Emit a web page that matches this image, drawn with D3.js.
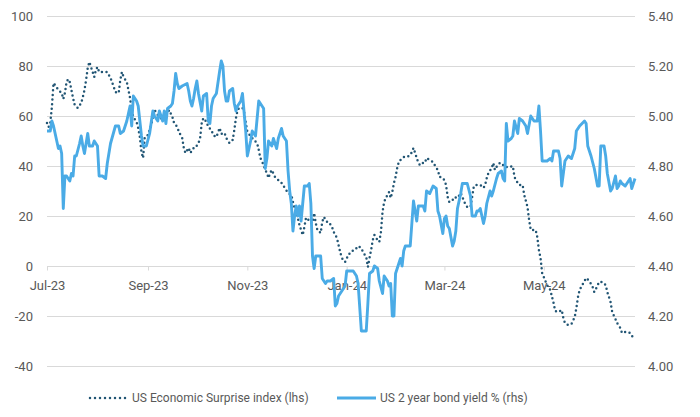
<!DOCTYPE html>
<meta charset="utf-8">
<style>
body { margin: 0; background: #fff; }
text { font-family: Roboto, "Noto Sans", sans-serif; fill: #595959; }
</style>
<body>
<script src="https://cdnjs.cloudflare.com/ajax/libs/d3/7.8.5/d3.min.js"></script>
<script>

// US Economic Surprise index (lhs)
var surprise = [
["2023-07-03",57.2],["2023-07-04",55.6],["2023-07-05",57.2],["2023-07-06",63.6],["2023-07-07",73.2],
["2023-07-08",72.4],["2023-07-10",70.4],["2023-07-12",69.2],["2023-07-13",66.8],["2023-07-14",69.2],
["2023-07-15",73.6],["2023-07-16",74.8],["2023-07-17",73.6],["2023-07-18",70.4],["2023-07-19",67.2],
["2023-07-20",64.4],["2023-07-21",63.6],["2023-07-22",63.2],["2023-07-24",65.2],["2023-07-25",67.6],
["2023-07-26",70.4],["2023-07-27",74.4],["2023-07-28",79.2],["2023-07-29",81.6],["2023-07-30",79.6],
["2023-07-31",77.6],["2023-08-01",75.6],["2023-08-02",78.4],["2023-08-03",79.6],["2023-08-04",77.6],
["2023-08-08",77.6],["2023-08-09",77.6],["2023-08-11",75.2],["2023-08-13",71.6],["2023-08-14",69.6],
["2023-08-16",69.2],["2023-08-17",74.4],["2023-08-18",77.6],["2023-08-19",75.6],["2023-08-21",73.6],
["2023-08-22",70.4],["2023-08-23",67.2],["2023-08-24",62.4],["2023-08-25",59.6],["2023-08-27",57.6],
["2023-08-28",55.2],["2023-08-29",51.6],["2023-08-30",45.6],["2023-08-31",43.2],["2023-09-01",51.6],
["2023-09-03",52.4],["2023-09-05",56.4],["2023-09-07",62.4],["2023-09-09",60.4],["2023-09-12",58.4],
["2023-09-14",59.6],["2023-09-16",62.4],["2023-09-18",59.6],["2023-09-19",57.2],["2023-09-21",55.6],
["2023-09-22",53.6],["2023-09-24",51.2],["2023-09-25",47.2],["2023-09-26",45.2],["2023-09-28",47.2],
["2023-09-29",45.2],["2023-10-01",47.2],["2023-10-02",47.2],["2023-10-04",49.2],["2023-10-05",51.2],
["2023-10-06",57.2],["2023-10-07",59.2],["2023-10-09",57.6],["2023-10-10",55.6],["2023-10-12",54.4],
["2023-10-13",52.4],["2023-10-15",51.6],["2023-10-17",55.2],["2023-10-18",52.8],["2023-10-20",53.2],
["2023-10-21",51.2],["2023-10-23",49.2],["2023-10-25",50.4],["2023-10-26",54.4],["2023-10-27",59.2],
["2023-10-28",62.4],["2023-10-29",63.2],["2023-10-31",63.2],["2023-11-01",61.6],["2023-11-02",57.6],
["2023-11-03",53.6],["2023-11-06",51.2],["2023-11-07",50.4],["2023-11-09",49.2],["2023-11-10",46.4],
["2023-11-11",43.2],["2023-11-13",40.4],["2023-11-14",38.4],["2023-11-15",37.2],["2023-11-16",35.2],
["2023-11-17",37.2],["2023-11-18",38.4],["2023-11-20",35.6],["2023-11-22",34.4],["2023-11-24",33.2],
["2023-11-26",31.2],["2023-11-28",29.2],["2023-11-30",28.4],["2023-12-01",25.6],["2023-12-02",23.2],
["2023-12-03",21.6],["2023-12-04",19.2],["2023-12-05",16.4],["2023-12-06",14.4],["2023-12-07",12.4],
["2023-12-08",15.6],["2023-12-09",19.2],["2023-12-10",19.2],["2023-12-11",17.6],["2023-12-13",17.2],
["2023-12-14",21.2],["2023-12-15",17.2],["2023-12-16",14.4],["2023-12-18",13.2],["2023-12-19",17.6],
["2023-12-20",19.6],["2023-12-22",17.6],["2023-12-23",17.6],["2023-12-25",15.6],["2023-12-26",13.6],
["2023-12-28",11.2],["2023-12-29",8.4],["2023-12-30",5.6],["2023-12-31",3.2],["2024-01-01",2.4],
["2024-01-02",1.6],["2024-01-04",4.4],["2024-01-06",6.0],["2024-01-08",6.4],["2024-01-10",8.0],
["2024-01-12",7.2],["2024-01-13",5.6],["2024-01-15",3.6],["2024-01-16",-0.4],["2024-01-17",3.2],
["2024-01-18",6.4],["2024-01-19",10.4],["2024-01-20",12.4],["2024-01-21",11.2],["2024-01-22",10.4],
["2024-01-23",9.6],["2024-01-24",13.6],["2024-01-25",21.6],["2024-01-26",25.6],["2024-01-27",27.2],
["2024-01-28",28.4],["2024-01-29",29.6],["2024-01-30",27.2],["2024-01-31",29.6],["2024-02-01",33.2],
["2024-02-02",35.6],["2024-02-03",39.2],["2024-02-04",41.6],["2024-02-06",43.2],["2024-02-07",43.6],
["2024-02-09",43.6],["2024-02-11",44.4],["2024-02-12",45.6],["2024-02-13",47.2],["2024-02-14",45.2],
["2024-02-16",41.2],["2024-02-17",40.4],["2024-02-18",41.2],["2024-02-20",41.2],["2024-02-21",43.2],
["2024-02-23",42.4],["2024-02-25",41.6],["2024-02-26",40.4],["2024-02-27",39.2],["2024-02-28",38.4],
["2024-02-29",35.6],["2024-03-01",35.6],["2024-03-03",34.4],["2024-03-04",32.4],["2024-03-05",27.6],
["2024-03-06",25.6],["2024-03-08",26.4],["2024-03-09",27.6],["2024-03-11",27.2],["2024-03-13",29.2],
["2024-03-14",27.6],["2024-03-16",24.4],["2024-03-17",23.6],["2024-03-19",23.6],["2024-03-20",27.6],
["2024-03-21",31.6],["2024-03-22",32.4],["2024-03-25",32.4],["2024-03-27",31.2],["2024-03-28",32.4],
["2024-03-29",35.2],["2024-03-30",37.2],["2024-04-01",39.2],["2024-04-02",41.2],["2024-04-03",38.4],
["2024-04-04",39.6],["2024-04-06",41.2],["2024-04-07",40.4],["2024-04-09",40.4],["2024-04-10",39.6],
["2024-04-12",39.6],["2024-04-14",40.0],["2024-04-15",35.6],["2024-04-17",33.2],["2024-04-18",32.4],
["2024-04-20",32.4],["2024-04-21",28.4],["2024-04-23",23.6],["2024-04-24",18.4],["2024-04-25",14.4],
["2024-04-28",14.4],["2024-04-29",11.6],["2024-04-30",6.4],["2024-05-01",3.2],["2024-05-02",-2.8],
["2024-05-05",-7.6],["2024-05-07",-9.6],["2024-05-09",-14.8],["2024-05-10",-18.0],["2024-05-12",-18.4],
["2024-05-14",-17.6],["2024-05-15",-20.8],["2024-05-16",-22.8],["2024-05-18",-23.6],["2024-05-20",-23.2],
["2024-05-22",-20.4],["2024-05-23",-16.8],["2024-05-24",-12.4],["2024-05-25",-9.6],["2024-05-27",-7.2],
["2024-05-29",-4.8],["2024-05-31",-6.0],["2024-06-02",-8.4],["2024-06-03",-10.4],["2024-06-04",-9.2],
["2024-06-06",-6.4],["2024-06-08",-6.4],["2024-06-10",-7.6],["2024-06-11",-10.4],["2024-06-13",-14.4],
["2024-06-14",-18.4],["2024-06-16",-21.2],["2024-06-17",-22.8],["2024-06-19",-24.8],["2024-06-20",-26.8],
["2024-06-22",-26.4],["2024-06-24",-26.4],["2024-06-25",-26.8],["2024-06-27",-28.8]
];

// US 2 year bond yield % (rhs)
var yields = [
["2023-07-03",4.94],["2023-07-05",4.94],["2023-07-06",4.98],["2023-07-07",4.96],["2023-07-09",4.90],
["2023-07-10",4.87],["2023-07-11",4.88],["2023-07-12",4.85],["2023-07-13",4.63],["2023-07-14",4.76],
["2023-07-15",4.76],["2023-07-17",4.74],["2023-07-18",4.77],["2023-07-19",4.76],["2023-07-20",4.84],
["2023-07-21",4.84],["2023-07-23",4.89],["2023-07-24",4.92],["2023-07-25",4.88],["2023-07-26",4.85],
["2023-07-28",4.93],["2023-07-29",4.88],["2023-07-31",4.88],["2023-08-01",4.90],["2023-08-03",4.88],
["2023-08-04",4.76],["2023-08-06",4.76],["2023-08-08",4.75],["2023-08-09",4.81],["2023-08-11",4.89],
["2023-08-14",4.96],["2023-08-16",4.96],["2023-08-17",4.93],["2023-08-19",4.94],["2023-08-21",4.98],
["2023-08-22",5.01],["2023-08-23",5.04],["2023-08-24",4.96],["2023-08-25",5.08],["2023-08-27",5.06],
["2023-08-28",5.04],["2023-08-30",4.92],["2023-08-31",4.88],["2023-09-02",4.88],["2023-09-04",4.93],
["2023-09-06",5.02],["2023-09-07",5.00],["2023-09-09",4.98],["2023-09-10",5.02],["2023-09-12",4.98],
["2023-09-13",5.02],["2023-09-14",4.97],["2023-09-15",5.03],["2023-09-17",5.04],["2023-09-18",5.05],
["2023-09-19",5.10],["2023-09-20",5.17],["2023-09-21",5.13],["2023-09-22",5.11],["2023-09-24",5.12],
["2023-09-27",5.13],["2023-09-28",5.10],["2023-09-29",5.06],["2023-09-30",5.04],["2023-10-01",5.07],
["2023-10-02",5.11],["2023-10-03",5.14],["2023-10-04",5.09],["2023-10-06",5.02],["2023-10-07",5.08],
["2023-10-09",5.09],["2023-10-10",4.98],["2023-10-11",4.97],["2023-10-12",5.04],["2023-10-13",5.07],
["2023-10-14",5.08],["2023-10-15",5.09],["2023-10-17",5.18],["2023-10-18",5.22],["2023-10-19",5.20],
["2023-10-20",5.10],["2023-10-21",5.06],["2023-10-22",5.06],["2023-10-23",5.10],["2023-10-25",5.11],
["2023-10-26",5.05],["2023-10-27",5.02],["2023-10-28",5.04],["2023-10-30",5.06],["2023-10-31",5.09],
["2023-11-02",4.94],["2023-11-03",4.84],["2023-11-05",4.90],["2023-11-06",4.94],["2023-11-08",4.92],
["2023-11-10",5.06],["2023-11-11",5.05],["2023-11-13",5.03],["2023-11-14",4.79],["2023-11-15",4.83],
["2023-11-16",4.90],["2023-11-18",4.88],["2023-11-19",4.91],["2023-11-21",4.87],["2023-11-22",4.91],
["2023-11-24",4.95],["2023-11-25",4.92],["2023-11-27",4.90],["2023-11-28",4.78],["2023-11-29",4.70],
["2023-11-30",4.65],["2023-12-01",4.54],["2023-12-02",4.60],["2023-12-03",4.64],["2023-12-04",4.60],
["2023-12-05",4.64],["2023-12-06",4.58],["2023-12-08",4.72],["2023-12-10",4.72],["2023-12-11",4.73],
["2023-12-12",4.65],["2023-12-13",4.44],["2023-12-14",4.39],["2023-12-15",4.44],["2023-12-18",4.44],
["2023-12-19",4.35],["2023-12-21",4.33],["2023-12-22",4.34],["2023-12-24",4.34],["2023-12-26",4.35],
["2023-12-27",4.24],["2023-12-28",4.25],["2023-12-29",4.28],["2023-12-31",4.30],["2024-01-02",4.32],
["2024-01-03",4.38],["2024-01-07",4.38],["2024-01-09",4.36],["2024-01-10",4.33],["2024-01-12",4.14],
["2024-01-15",4.14],["2024-01-16",4.25],["2024-01-17",4.37],["2024-01-19",4.38],["2024-01-20",4.40],
["2024-01-22",4.39],["2024-01-23",4.34],["2024-01-25",4.29],["2024-01-26",4.36],["2024-01-28",4.34],
["2024-01-29",4.32],["2024-01-30",4.33],["2024-01-31",4.20],["2024-02-01",4.20],["2024-02-02",4.37],
["2024-02-04",4.41],["2024-02-05",4.43],["2024-02-06",4.40],["2024-02-07",4.46],["2024-02-08",4.48],
["2024-02-10",4.48],["2024-02-11",4.48],["2024-02-13",4.66],["2024-02-14",4.62],["2024-02-15",4.58],
["2024-02-16",4.64],["2024-02-19",4.64],["2024-02-20",4.62],["2024-02-21",4.70],["2024-02-23",4.69],
["2024-02-25",4.72],["2024-02-27",4.71],["2024-02-28",4.62],["2024-02-29",4.60],["2024-03-02",4.53],
["2024-03-03",4.59],["2024-03-04",4.60],["2024-03-05",4.56],["2024-03-06",4.55],["2024-03-08",4.48],
["2024-03-09",4.50],["2024-03-10",4.54],["2024-03-11",4.63],["2024-03-13",4.69],["2024-03-14",4.73],
["2024-03-17",4.73],["2024-03-19",4.68],["2024-03-20",4.60],["2024-03-22",4.60],["2024-03-23",4.62],
["2024-03-24",4.62],["2024-03-25",4.63],["2024-03-27",4.57],["2024-03-28",4.60],["2024-03-29",4.65],
["2024-03-31",4.70],["2024-04-01",4.68],["2024-04-02",4.70],["2024-04-04",4.75],["2024-04-05",4.77],
["2024-04-07",4.78],["2024-04-08",4.75],["2024-04-09",4.74],["2024-04-10",4.97],["2024-04-11",4.90],
["2024-04-13",4.91],["2024-04-14",4.92],["2024-04-15",4.98],["2024-04-17",4.93],["2024-04-18",4.99],
["2024-04-20",4.98],["2024-04-22",4.96],["2024-04-23",4.93],["2024-04-25",5.00],["2024-04-27",4.98],
["2024-04-29",4.98],["2024-04-30",5.04],["2024-05-01",4.94],["2024-05-02",4.82],["2024-05-05",4.82],
["2024-05-07",4.83],["2024-05-08",4.82],["2024-05-09",4.86],["2024-05-12",4.86],["2024-05-13",4.83],
["2024-05-14",4.72],["2024-05-16",4.82],["2024-05-18",4.84],["2024-05-20",4.83],["2024-05-22",4.87],
["2024-05-23",4.94],["2024-05-25",4.96],["2024-05-28",4.98],["2024-05-29",4.97],["2024-05-30",4.88],
["2024-06-01",4.84],["2024-06-03",4.79],["2024-06-05",4.72],["2024-06-06",4.72],["2024-06-07",4.88],
["2024-06-09",4.88],["2024-06-10",4.84],["2024-06-11",4.77],["2024-06-13",4.70],["2024-06-14",4.71],
["2024-06-16",4.76],["2024-06-17",4.71],["2024-06-18",4.72],["2024-06-19",4.74],["2024-06-20",4.73],
["2024-06-22",4.72],["2024-06-24",4.74],["2024-06-25",4.75],["2024-06-26",4.71],["2024-06-28",4.75]
];

var leftTicks = [-40, -20, 0, 20, 40, 60, 80, 100];
var rightTicks = [4.00, 4.20, 4.40, 4.60, 4.80, 5.00, 5.20, 5.40];
var xTicks = ["2023-07-03", "2023-09-03", "2023-11-03", "2024-01-03", "2024-03-03", "2024-05-03"];
var legendLabels = ["US Economic Surprise index (lhs)", "US 2 year bond yield % (rhs)"];

var w = 700, h = 417;
var plotLeft = 47, plotRight = 635, plotTop = 16, plotBottom = 366;
var parse = d3.utcParse("%Y-%m-%d");

var svg = d3.select("body").append("svg")
	.attr("width", w)
	.attr("height", h);

var x = d3.scaleUtc()
	.domain([parse("2023-07-03"), parse("2024-06-28")])
	.range([plotLeft, plotRight]);
var yL = d3.scaleLinear().domain([-40, 100]).range([plotBottom, plotTop]);
var yR = d3.scaleLinear().domain([4.0, 5.4]).range([plotBottom, plotTop]);

// gridlines
svg.append("g").selectAll("line")
	.data(leftTicks)
	.enter().append("line")
	.attr("x1", plotLeft).attr("x2", plotRight)
	.attr("y1", function(d) { return yL(d) + 0.5; })
	.attr("y2", function(d) { return yL(d) + 0.5; })
	.attr("stroke", "#d9d9d9")
	.attr("stroke-width", 1);

// left axis labels
svg.append("g").selectAll("text")
	.data(leftTicks)
	.enter().append("text")
	.attr("x", 33)
	.attr("y", function(d) { return yL(d); })
	.attr("dy", "0.35em")
	.attr("text-anchor", "end")
	.style("font-size", "13px")
	.text(function(d) { return d; });

// right axis labels
svg.append("g").selectAll("text")
	.data(rightTicks)
	.enter().append("text")
	.attr("x", 648)
	.attr("y", function(d) { return yR(d); })
	.attr("dy", "0.35em")
	.style("font-size", "13px")
	.text(function(d) { return d.toFixed(2); });

// x axis along zero line
var xAxis = d3.axisBottom(x)
	.tickValues(xTicks.map(parse))
	.tickSize(4)
	.tickPadding(10)
	.tickFormat(d3.utcFormat("%b-%y"));
var gx = svg.append("g")
	.attr("transform", "translate(0," + (yL(0) + 0.5) + ")")
	.call(xAxis);
gx.select(".domain").remove();
gx.selectAll(".tick line").attr("stroke", "#d9d9d9");
gx.selectAll(".tick text")
	.style("font-size", "13px")
	.style("font-family", "Roboto, 'Noto Sans', sans-serif")
	.attr("fill", "#595959");

var lineL = d3.line()
	.x(function(d) { return x(parse(d[0])); })
	.y(function(d) { return yL(d[1]); });
var lineR = d3.line()
	.x(function(d) { return x(parse(d[0])); })
	.y(function(d) { return yR(d[1]); });

svg.append("path")
	.datum(surprise)
	.attr("d", lineL)
	.attr("fill", "none")
	.attr("stroke", "#215574")
	.attr("stroke-width", 2.5)
	.attr("stroke-linecap", "round")
	.attr("stroke-dasharray", "0 4.6");

svg.append("path")
	.datum(yields)
	.attr("d", lineR)
	.attr("fill", "none")
	.attr("stroke", "#4aabe6")
	.attr("stroke-width", 2.9)
	.attr("stroke-linejoin", "round");

// legend
var lg = svg.append("g");
lg.append("line")
	.attr("x1", 90).attr("x2", 127)
	.attr("y1", 398).attr("y2", 398)
	.attr("stroke", "#215574")
	.attr("stroke-width", 2.5)
	.attr("stroke-linecap", "round")
	.attr("stroke-dasharray", "0 5");
lg.append("text")
	.attr("x", 132).attr("y", 398).attr("dy", "0.35em")
	.style("font-size", "12px")
	.text(legendLabels[0]);
lg.append("line")
	.attr("x1", 337).attr("x2", 376)
	.attr("y1", 398).attr("y2", 398)
	.attr("stroke", "#4aabe6")
	.attr("stroke-width", 2.9);
lg.append("text")
	.attr("x", 380).attr("y", 398).attr("dy", "0.35em")
	.style("font-size", "12px")
	.text(legendLabels[1]);

</script>
</body>
